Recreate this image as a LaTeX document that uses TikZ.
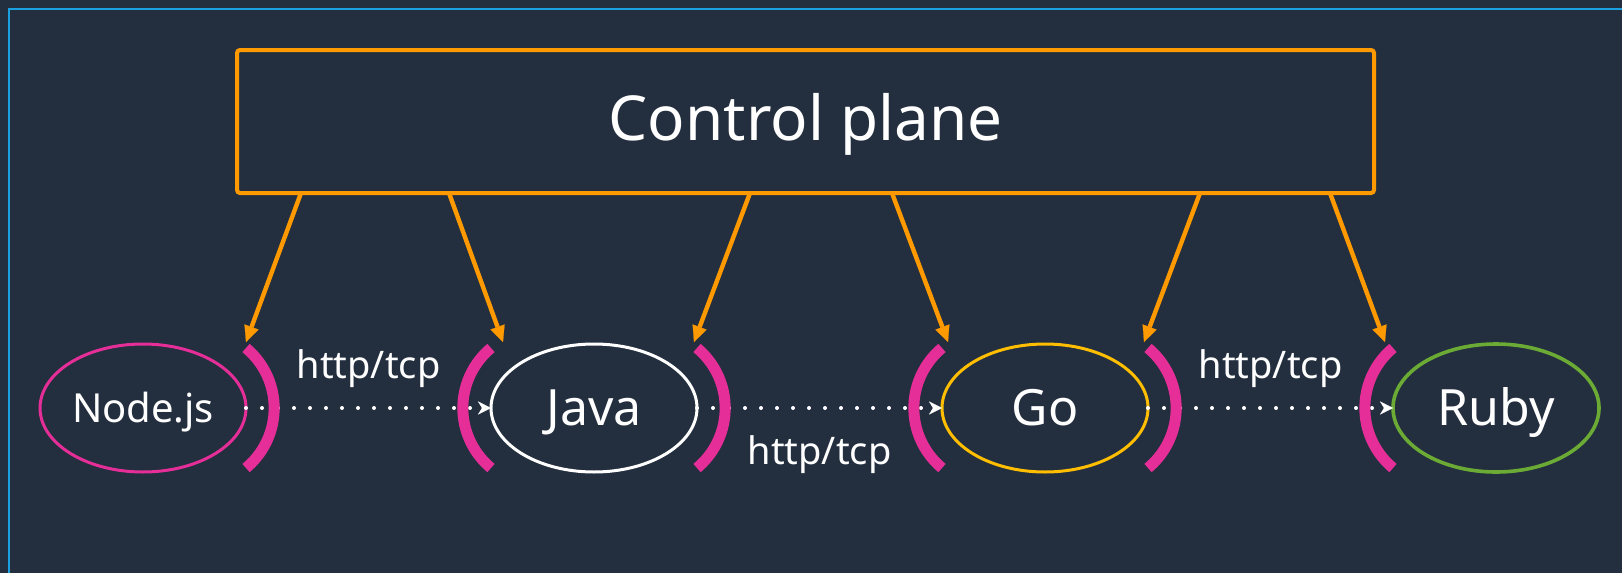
\documentclass[tikz,border=0pt]{standalone}
\usepackage{fontspec}
\setmainfont{Noto Sans}
\usetikzlibrary{arrows.meta,shapes.geometric}

\definecolor{awsnavy}{HTML}{232F3E}
\definecolor{edgeblue}{HTML}{1BA1E2}
\definecolor{cporange}{HTML}{FF9900}
\definecolor{proxypink}{HTML}{E62E98}
\definecolor{goyellow}{HTML}{FFBF00}
\definecolor{rubygreen}{HTML}{6BAA34}

\begin{document}
\begin{tikzpicture}[x=0.5pt,y=-0.5pt,
    svc/.style={ellipse, draw=white, line width=1.5pt, outer sep=0pt, inner sep=0pt,
        minimum width=103pt, minimum height=64pt, text=white,
        text height=17.9pt, text depth=0pt, font=\fontsize{25}{30}\selectfont},
    proxy/.style={draw=proxypink, line width=5.5pt},
    feed/.style={draw=cporange, line width=2.2pt,
        -{Triangle[length=8pt,width=7.5pt,line width=0.1pt]}},
    flow/.style={draw=white, line width=2pt, line cap=round,
        dash pattern=on 0pt off 8pt,
        -{Stealth[length=6.5pt,width=6.5pt,inset=2pt,line width=0.1pt]}},
    proto/.style={text=white, inner sep=0pt, font=\fontsize{19}{23}\selectfont}
]
        % background and frame
        \fill[awsnavy] (0,0) rectangle (1622,573);
        \useasboundingbox (0,0) rectangle (1622,573);
        \draw[edgeblue, line width=1pt] (1622,8.5) -- (9,8.5) -- (9,573);

        \node[draw=cporange, line width=2pt, outer sep=0pt, rounded corners=1.5pt,
            minimum width=568.5pt, minimum height=71.5pt, text=white,
            text height=22.1pt, text depth=3pt,
            font=\fontsize{31}{37}\selectfont] (cp) at (805.5,121.5) {Control plane};

        % services
        \node[svc, draw=proxypink, text height=14.3pt, font=\fontsize{20}{24}\selectfont] (nodejs) at (143,408) {Node.js};
        \node[svc] (java) at (594,408) {Java};
        \node[svc, draw=goyellow] (go) at (1045,408) {Go};
        \node[svc, draw=rubygreen, line width=1.8pt] (ruby) at (1496,408) {Ruby};

        % calls between services
        \draw[flow] (nodejs) -- node[proto, midway, above=9pt] {http/tcp} (java);
        \draw[flow] (java) -- node[proto, midway, below=13pt] {http/tcp} (go);
        \draw[flow] (go) -- node[proto, midway, above=9pt] {http/tcp} (ruby);

        % proxies
        \foreach \n in {nodejs,java,go}
            \draw[proxy] ([yshift=30pt]\n.east) arc[start angle=50.3, end angle=-50.3, radius=39pt];
        \foreach \n in {java,go,ruby}
            \draw[proxy] ([yshift=30pt]\n.west) arc[start angle=129.7, end angle=230.3, radius=39pt];

        % config from the control plane
        \foreach \s/\t [count=\i] in {32/246, 106/503, 256.5/694, 327.5/948, 481.5/1144, 546.5/1385} {
            \coordinate (in\i) at (\t,342);
            \draw[feed] ([xshift=\s pt]cp.south west) -- (in\i);
        }

\end{tikzpicture}
\end{document}
